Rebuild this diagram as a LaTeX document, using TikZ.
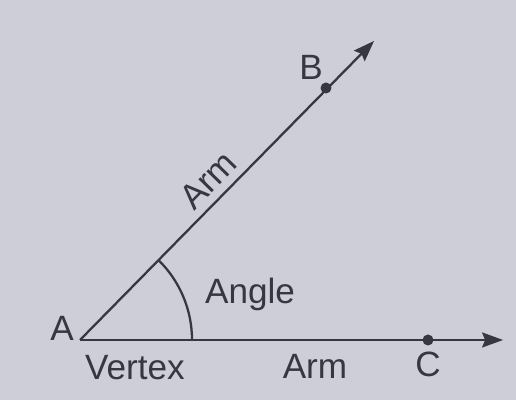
\documentclass[tikz,border=0pt]{standalone}
\usepackage{fontspec}
\setmainfont{Liberation Sans}
\usetikzlibrary{arrows.meta}
\definecolor{paper}{RGB}{206,206,216}
\definecolor{ink}{RGB}{55,55,65}
\tikzstyle{ray} = [ink, line width=1.3pt, -{Stealth[length=0.42cm, width=0.3cm, inset=0.06cm]}]
\tikzstyle{dot} = [circle, fill=ink, inner sep=0pt, minimum size=0.22cm]
\tikzstyle{lbl} = [text=ink, font=\fontsize{20}{24}\selectfont, inner sep=0pt]

\begin{document}
\begin{tikzpicture}[scale=0.02]
      \fill[paper] (0,0) rectangle (516,400);
      \useasboundingbox (0,0) rectangle (516,400);
      \coordinate (A) at (80,60);
      \coordinate (tipB) at (374,359);
      \coordinate (tipC) at (503,60);
      \node (B)[dot] at (326,312){};
      \node (C)[dot] at (428,60){};
      \draw[ray] (A)--(tipB);
      \draw[ray] (A)--(tipC);
      \draw[ink, line width=1.3pt] ([shift={(0:112)}]A) arc (0:45.7:112);
      \node (lA)[lbl] at (62,72){A};
      \node (lB)[lbl] at (311,333){B};
      \node (lC)[lbl] at (428,36){C};
      \node (vtx)[lbl] at (135,32){Vertex};
      \node (arm1)[lbl] at (315,34){Arm};
      \node (arm2)[lbl, rotate=45.7] at (208,220){Arm};
      \node (ang)[lbl] at (250,106){Angle};
    \end{tikzpicture}
\end{document}
